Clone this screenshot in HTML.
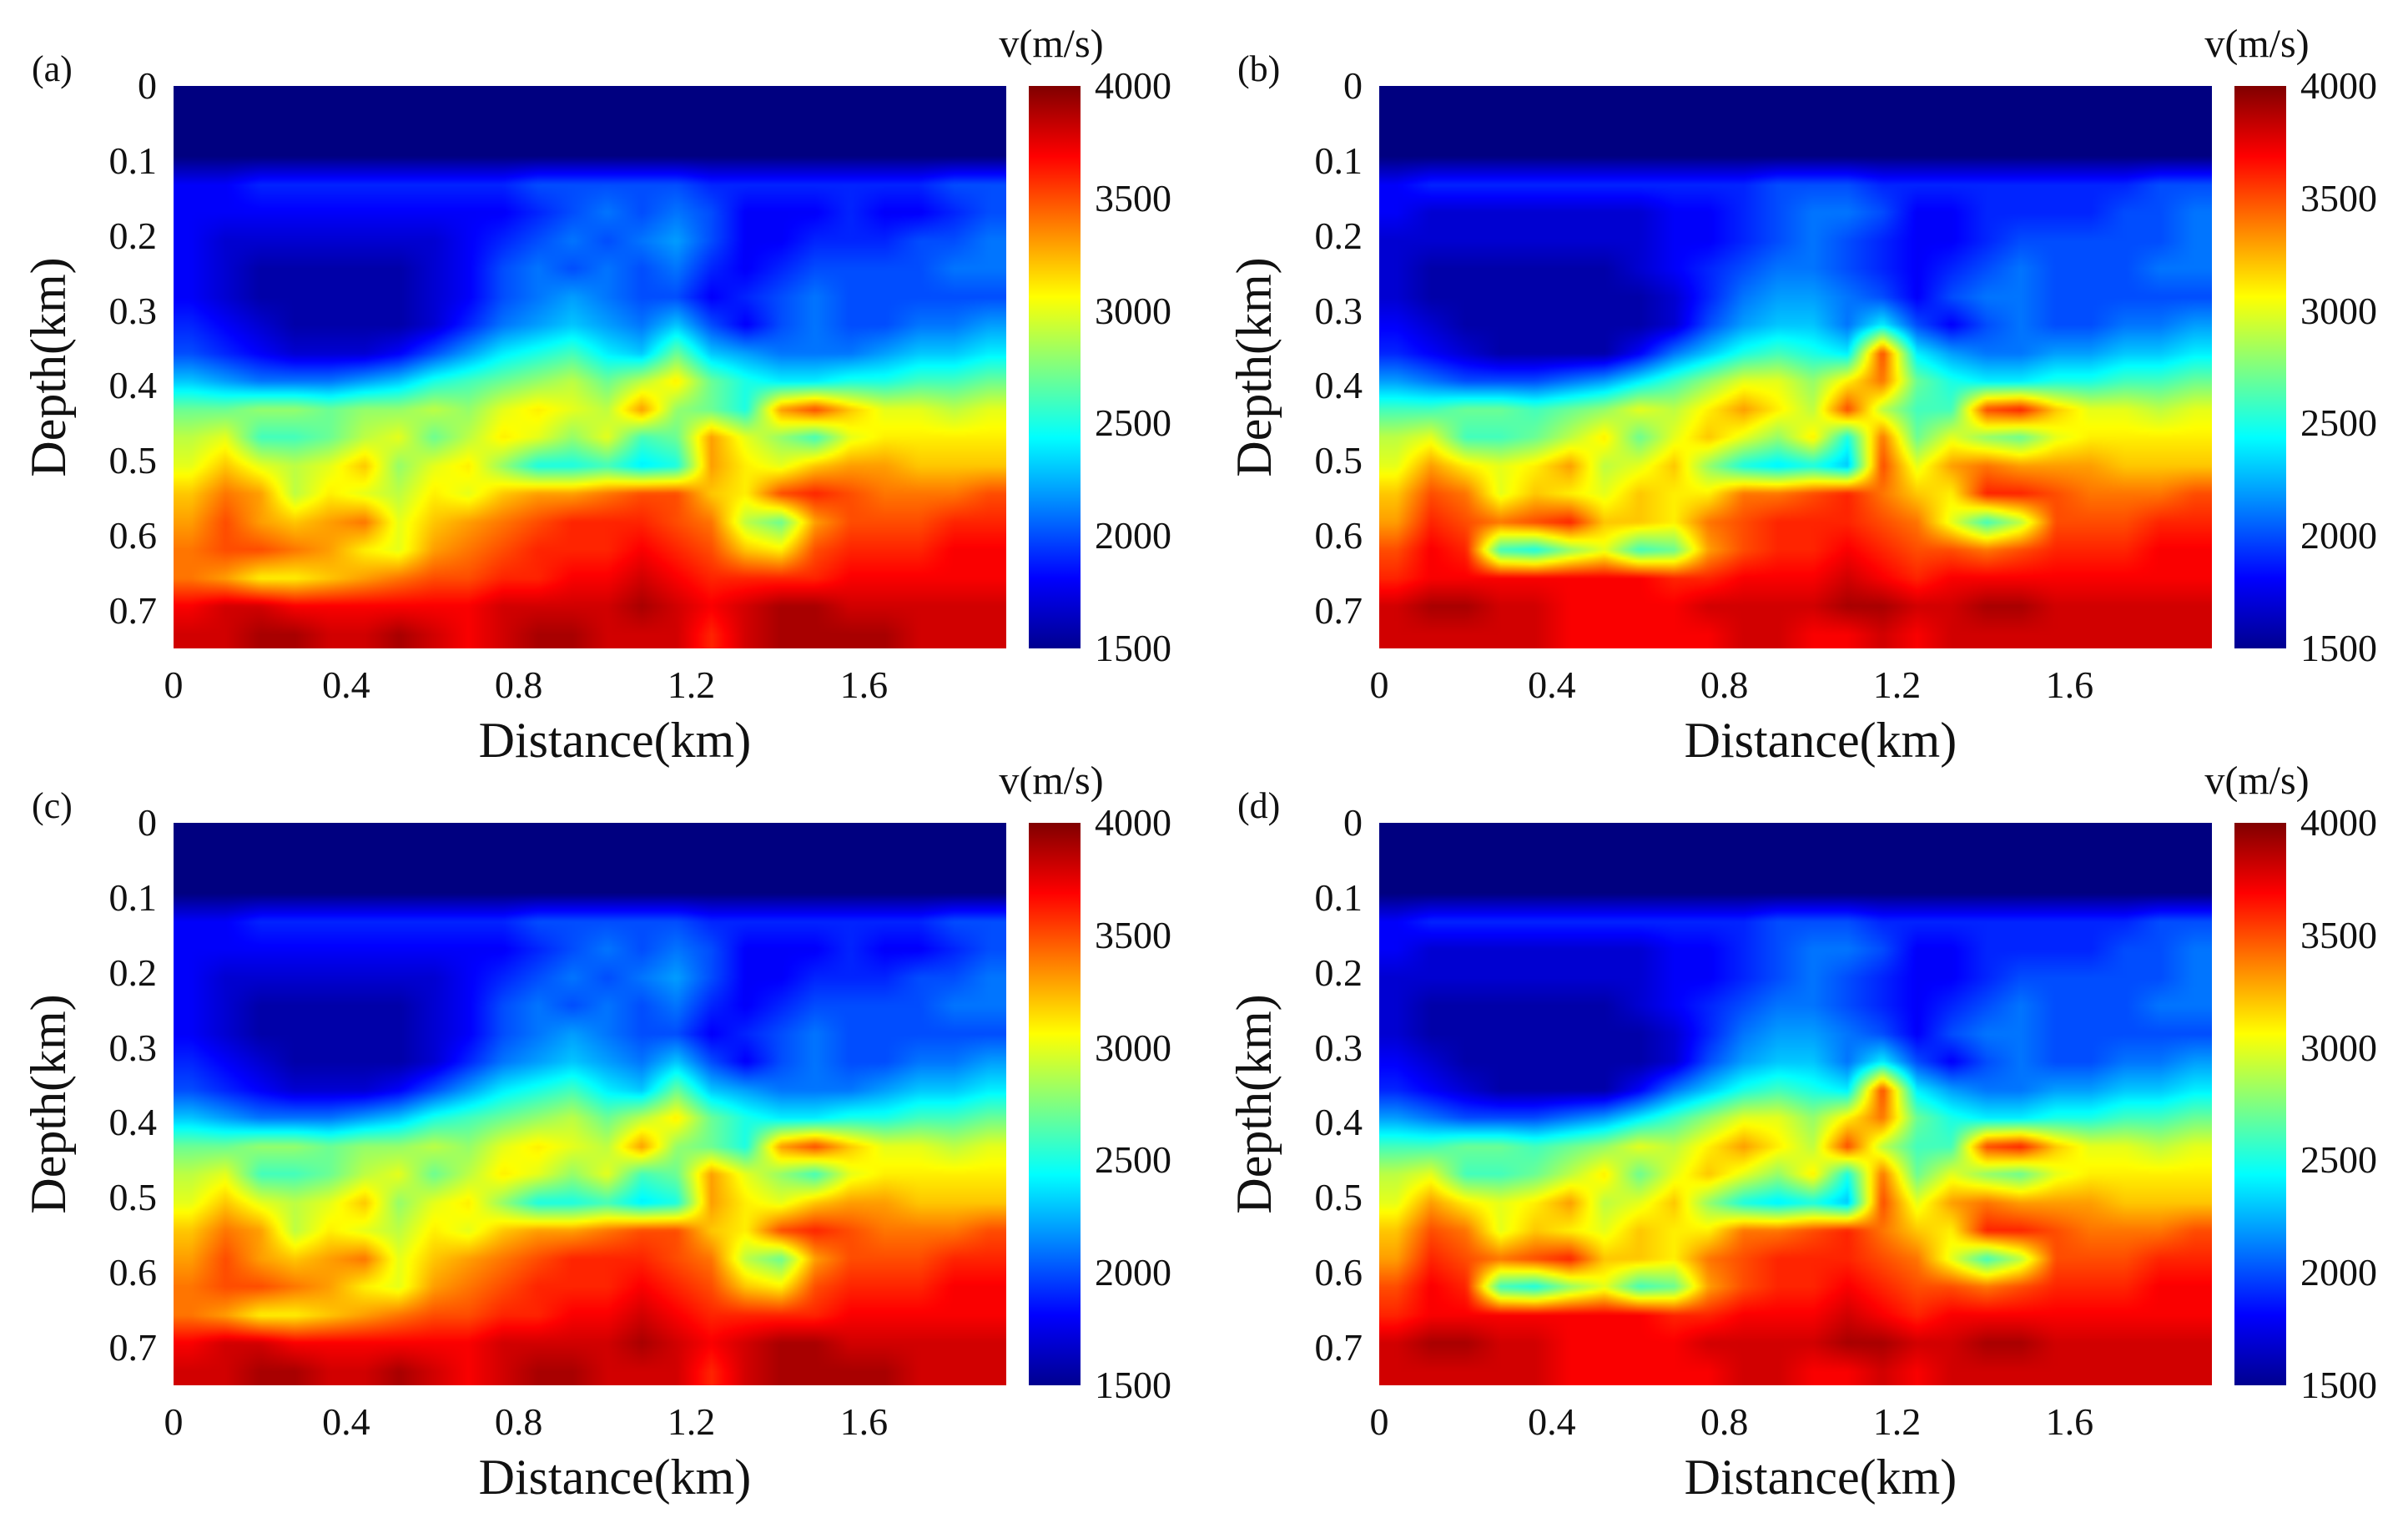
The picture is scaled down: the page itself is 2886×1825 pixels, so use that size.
<!DOCTYPE html>
<html><head><meta charset="utf-8">
<style>
body{margin:0;background:#fff;}
#root{position:relative;width:2886px;height:1825px;overflow:hidden;background:#fff;font-family:"Liberation Serif",serif;color:#111;}
.t{position:absolute;white-space:nowrap;line-height:1;}
canvas.hm{position:absolute;}
.cb{position:absolute;background:linear-gradient(to top,#00008f 0%,#0000ff 12.5%,#0080ff 25%,#00ffff 37.5%,#80ff80 50%,#ffff00 62.5%,#ff8000 75%,#ff0000 87.5%,#800000 100%);}
</style></head><body>
<div id="root"></div>
<script>
// ---- data ----
const depthTicks=[0,0.1,0.2,0.3,0.4,0.5,0.6,0.7];
const distTicks=[0,0.4,0.8,1.2,1.6];
const cbTicks=[1500,2000,2500,3000,3500,4000];
const panelLabels=["(a)","(b)","(c)","(d)"];
// velocity grids (hundreds of m/s), rows = depth 0..0.75 km, cols = distance 0..1.93 km
const gridA=[
[15,15,15,15,15,15,15,15,15,15,15,15,15,15,15,15,15,15,15,15,15,15,15,15],
[15,15,15,15,15,15,15,15,15,15,15,15,15,15,15,15,15,15,15,15,15,15,15,15],
[15,15,15,15,15,15,15,15,15,15,15,15,15,15,15,15,15,15,15,15,15,15,15,15],
[18,18,19,19,19,19,19,19,19,19,20,20,20,20,20,19,19,19,19,19,19,19,20,20],
[18,18,18,18,18,18,18,18,18,18,19,20,21,20,21,20,18,18,18,19,18,18,19,20],
[18,17,17,17,17,17,17,17,18,19,20,21,20,21,22,20,18,18,19,19,19,20,20,21],
[18,17,16,16,16,16,16,17,18,20,21,20,21,20,21,19,18,19,20,20,20,20,21,21],
[18,17,16,16,16,16,16,17,18,20,21,22,21,20,20,18,19,20,21,20,20,20,20,20],
[19,18,17,16,16,16,16,17,19,21,22,23,22,21,23,20,18,20,21,20,20,21,21,22],
[20,19,18,17,17,17,18,20,22,24,25,26,24,23,27,23,22,21,21,21,22,23,23,24],
[23,22,21,21,21,22,23,25,26,27,28,29,27,29,31,27,25,24,24,25,25,26,26,27],
[27,27,28,28,27,28,28,29,28,30,31,30,29,33,28,27,25,33,35,32,30,30,29,30],
[29,30,26,26,27,29,30,27,29,31,30,28,30,26,27,33,30,28,26,30,31,31,31,31],
[30,32,30,29,30,32,28,30,31,28,25,25,26,24,25,33,31,30,32,33,33,32,32,32],
[32,34,33,29,31,30,29,31,30,32,33,33,34,35,35,32,31,35,36,35,34,34,34,35],
[33,35,33,32,33,34,30,32,33,34,35,36,36,36,35,34,29,27,33,35,35,35,36,36],
[34,35,35,34,33,31,30,33,34,35,36,36,36,37,36,35,32,31,35,36,36,36,37,37],
[34,33,31,31,32,33,34,35,35,36,36,37,37,38,37,36,36,36,36,37,37,37,37,37],
[37,38,38,37,37,37,37,37,37,38,38,38,38,39,38,37,38,39,39,38,38,38,38,38],
[38,38,39,39,38,38,39,38,37,38,39,39,38,38,38,36,38,39,39,39,39,38,38,38]];
const gridB=[
[15,15,15,15,15,15,15,15,15,15,15,15,15,15,15,15,15,15,15,15,15,15,15,15],
[15,15,15,15,15,15,15,15,15,15,15,15,15,15,15,15,15,15,15,15,15,15,15,15],
[15,15,15,15,15,15,15,15,15,15,15,15,15,15,15,15,15,15,15,15,15,15,15,15],
[18,19,19,19,19,19,19,19,19,19,19,20,20,20,19,19,19,19,19,19,19,19,20,20],
[18,17,17,17,17,17,17,17,18,18,19,20,21,21,20,18,18,19,19,19,19,20,20,21],
[17,17,17,17,17,17,17,17,18,18,19,20,21,20,19,18,18,19,20,20,20,20,20,21],
[17,16,16,16,16,16,16,17,18,19,20,21,21,20,19,18,19,20,21,20,20,20,21,21],
[17,16,16,16,16,16,16,16,17,19,21,22,22,21,20,18,20,21,21,20,20,20,20,20],
[18,17,16,16,16,16,16,16,17,20,22,23,23,21,24,20,18,20,21,20,20,21,21,22],
[19,18,17,16,16,16,16,18,21,23,25,26,25,24,35,24,22,21,21,22,22,23,23,24],
[22,21,20,20,20,21,22,24,26,28,30,30,28,31,34,27,25,24,24,25,25,26,26,27],
[26,26,27,27,26,27,28,30,29,31,33,31,29,35,29,26,26,35,36,32,30,30,29,30],
[29,30,26,26,27,29,31,27,30,32,30,28,31,25,34,27,30,28,27,30,31,31,31,31],
[30,33,31,30,31,33,29,30,32,28,25,24,25,23,35,30,33,34,33,33,33,32,32,32],
[32,35,34,30,32,31,30,32,31,31,34,34,35,36,34,32,31,36,36,35,34,34,34,35],
[33,36,35,34,35,36,32,32,31,34,35,36,36,36,35,34,30,26,29,35,35,35,36,36],
[35,37,36,26,25,28,30,26,27,33,35,36,36,37,36,35,35,34,35,36,36,36,37,37],
[36,37,37,37,37,37,37,37,36,36,37,37,37,38,37,36,37,37,37,37,37,37,37,37],
[38,39,39,38,38,37,37,37,37,38,38,38,38,39,39,38,38,39,39,38,38,38,38,38],
[38,38,38,38,38,37,37,37,37,37,38,38,37,37,38,37,38,38,38,38,38,38,38,38]];
const panelGrids=[gridA,gridB,gridA,gridB];

// ---- layout ----
const root=document.getElementById('root');
const PW=998,PH=674,X0=208,Y0=103,DX=1445,DY=883;
const XMAX=1.93,DMAX=0.75,VMIN=1500,VMAX=4000;
function jet(v){
  let t=(v-VMIN)/(VMAX-VMIN);t=Math.max(0,Math.min(1,t));
  const r=Math.max(0,Math.min(1,1.5-Math.abs(4*t-3)));
  const g=Math.max(0,Math.min(1,1.5-Math.abs(4*t-2)));
  const b=Math.max(0,Math.min(1,1.5-Math.abs(4*t-1)));
  return [r*255,g*255,b*255];
}
function txt(s,x,y,size,align,name){
  const d=document.createElement('div');d.className='t';d.textContent=s;
  d.style.fontSize=size+'px';d.style.top=(y-size*0.5)+'px';
  if(align==='right'){d.style.right=(2886-x)+'px';}
  else if(align==='center'){d.style.left=x+'px';d.style.transform='translateX(-50%)';}
  else d.style.left=x+'px';
  
  
  root.appendChild(d);return d;
}
panelGrids.forEach((grid,p)=>{
  const ox=X0+(p%2)*DX, oy=Y0+Math.floor(p/2)*DY;
  const rows=grid.length, cols=grid[0].length;
  const W=250,H=190;
  const c=document.createElement('canvas');c.className='hm';c.width=W;c.height=H;
  c.style.left=ox+'px';c.style.top=oy+'px';c.style.width=PW+'px';c.style.height=PH+'px';
  
  
  const ctx=c.getContext('2d');const img=ctx.createImageData(W,H);
  for(let j=0;j<H;j++){
    const fy=Math.max(0,Math.min(rows-1,(j+0.5)/H*rows-0.5));
    const r0=Math.floor(fy),r1=Math.min(rows-1,r0+1),wy=fy-r0;
    for(let i=0;i<W;i++){
      const fx=Math.max(0,Math.min(cols-1,(i+0.5)/W*cols-0.5));
      const c0=Math.floor(fx),c1=Math.min(cols-1,c0+1),wx=fx-c0;
      let v=(grid[r0][c0]*(1-wx)+grid[r0][c1]*wx)*(1-wy)+(grid[r1][c0]*(1-wx)+grid[r1][c1]*wx)*wy;
      if(grid[r0][c0]<=15&&grid[r1][c0]<=15)v=15;
      const col=jet(v*100);const k=(j*W+i)*4;
      img.data[k]=col[0];img.data[k+1]=col[1];img.data[k+2]=col[2];img.data[k+3]=255;
    }
  }
  ctx.putImageData(img,0,0);root.appendChild(c);
  depthTicks.forEach(d=>{txt(String(d),ox-20,oy+d/DMAX*PH,46,'right','depth-tick-label');});
  distTicks.forEach(x=>{txt(String(x),ox+x/XMAX*PW,oy+PH+44,46,'center','distance-tick-label');});
  txt('Distance(km)',ox+PW*0.53,oy+PH+110,60,'center','x-axis-title');
  const yt=txt('Depth(km)',ox-150,oy+PH*0.5,60,'left','y-axis-title');
  yt.style.left=(ox-150)+'px';yt.style.transformOrigin='center';
  yt.style.transform='translate(-50%,0) rotate(-90deg)';
  txt(panelLabels[p],ox-170,oy-20,44,'left','panel-label');
  const cb=document.createElement('div');cb.className='cb';
  cb.style.left=(ox+1025)+'px';cb.style.top=oy+'px';cb.style.width='62px';cb.style.height=PH+'px';
  
  
  root.appendChild(cb);
  cbTicks.forEach(v=>{txt(String(v),ox+1104,oy+PH-(v-VMIN)/(VMAX-VMIN)*PH,46,'left','colorbar-tick-label');});
  txt('v(m/s)',ox+1052,oy-50,48,'center','colorbar-title');
});
</script>
</body></html>
